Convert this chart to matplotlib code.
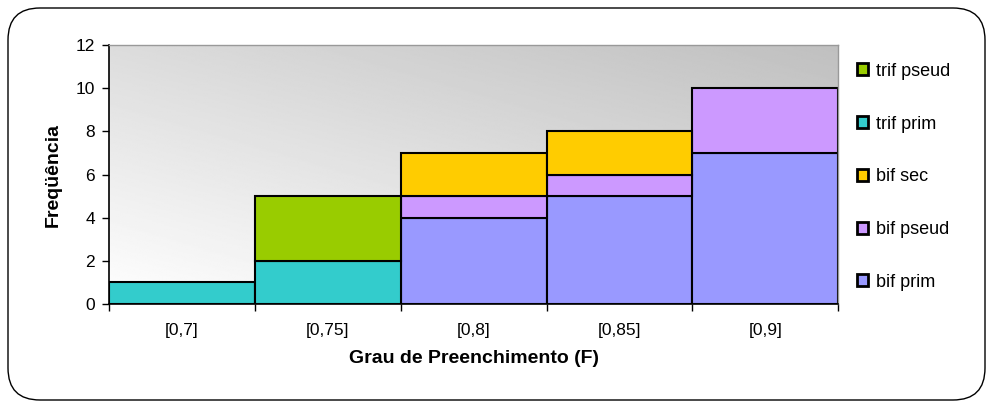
import numpy as np
import matplotlib
matplotlib.use('Agg')
import matplotlib.pyplot as plt
from matplotlib.patches import FancyBboxPatch
from matplotlib.ticker import MultipleLocator, FixedLocator

# ---------------- data ----------------
categories = ['[0,7]', '[0,75]', '[0,8]', '[0,85]', '[0,9]']
bif_prim = [0, 0, 4, 5, 7]
bif_pseud = [0, 0, 1, 1, 3]
bif_sec = [0, 0, 2, 2, 0]
trif_prim = [1, 2, 0, 0, 0]
trif_pseud = [0, 3, 0, 0, 0]

series_names = ['bif prim', 'bif pseud', 'bif sec', 'trif prim', 'trif pseud']
series_colors = ['#9999FF', '#CC99FF', '#FFCC00', '#33CCCC', '#99CC00']

# ---------------- settings ----------------
plt.rcParams['font.family'] = ['Liberation Sans', 'DejaVu Sans']
tick_fontsize = 12.5
legend_fontsize = 13
label_fontsize = 14
edge_width = 1.5

fig = plt.figure(figsize=(9.87, 4.07), dpi=100)
ax = fig.add_axes([0.1104, 0.253, 0.739, 0.636])

# rounded outer border
border = FancyBboxPatch((0.08, 0.07), 9.77, 3.92,
                        boxstyle='round,pad=0,rounding_size=0.32',
                        transform=fig.dpi_scale_trans, facecolor='white',
                        edgecolor='black', linewidth=1.0, zorder=-10)
fig.patches.append(border)

# gradient background of the plot area
gx, gy = np.meshgrid(np.linspace(0, 1, 300), np.linspace(0, 1, 200))
grad = 1.0 - 0.25 * (0.45 * gx + 0.55 * gy)
ax.imshow(grad, cmap='gray', vmin=0, vmax=1, origin='lower', aspect='auto',
          extent=[0, 1, 0, 1], transform=ax.transAxes, zorder=0)

# stacked bars
x = np.arange(len(categories))
data = [bif_prim, bif_pseud, bif_sec, trif_prim, trif_pseud]
bottom = np.zeros(len(categories))
handles = []
for vals, name, col in zip(data, series_names, series_colors):
    vals = np.array(vals, dtype=float)
    mask = vals > 0
    b = ax.bar(x[mask], vals[mask], bottom=bottom[mask], width=1.0,
               color=col, edgecolor='black', linewidth=edge_width,
               label=name, zorder=2)
    handles.append(b)
    bottom += vals

ax.set_xlim(-0.5, len(categories) - 0.5)
ax.set_ylim(0, 12)

ax.yaxis.set_major_locator(MultipleLocator(2))
ax.xaxis.set_major_locator(FixedLocator(np.arange(-0.5, len(categories), 1.0)))
ax.xaxis.set_major_formatter(plt.NullFormatter())
ax.set_xticks(x, minor=True)
ax.set_xticklabels(categories, minor=True)

ax.tick_params(axis='y', which='major', direction='out', length=5, width=1,
               labelsize=tick_fontsize, pad=5)
ax.tick_params(axis='x', which='major', direction='out', length=5, width=1)
ax.tick_params(axis='x', which='minor', length=0, labelsize=tick_fontsize, pad=14)

for side in ['left', 'bottom']:
    ax.spines[side].set_linewidth(1.2)
    ax.spines[side].set_color('black')
for side in ['top', 'right']:
    ax.spines[side].set_linewidth(1.0)
    ax.spines[side].set_color('#999999')

ax.set_xlabel('Grau de Preenchimento (F)', fontsize=label_fontsize,
              fontweight='bold', labelpad=8)
ax.set_ylabel('Freqüência', fontsize=label_fontsize, fontweight='bold',
              labelpad=10)

leg = ax.legend(handles[::-1], series_names[::-1], loc='upper left',
                bbox_to_anchor=(1.015, 0.96), frameon=False,
                fontsize=legend_fontsize, handlelength=0.65,
                handleheight=0.65, handletextpad=0.45, labelspacing=1.98,
                borderaxespad=0)
for h in leg.legend_handles:
    h.set_linewidth(2)

fig.savefig('out.png', dpi=100)
